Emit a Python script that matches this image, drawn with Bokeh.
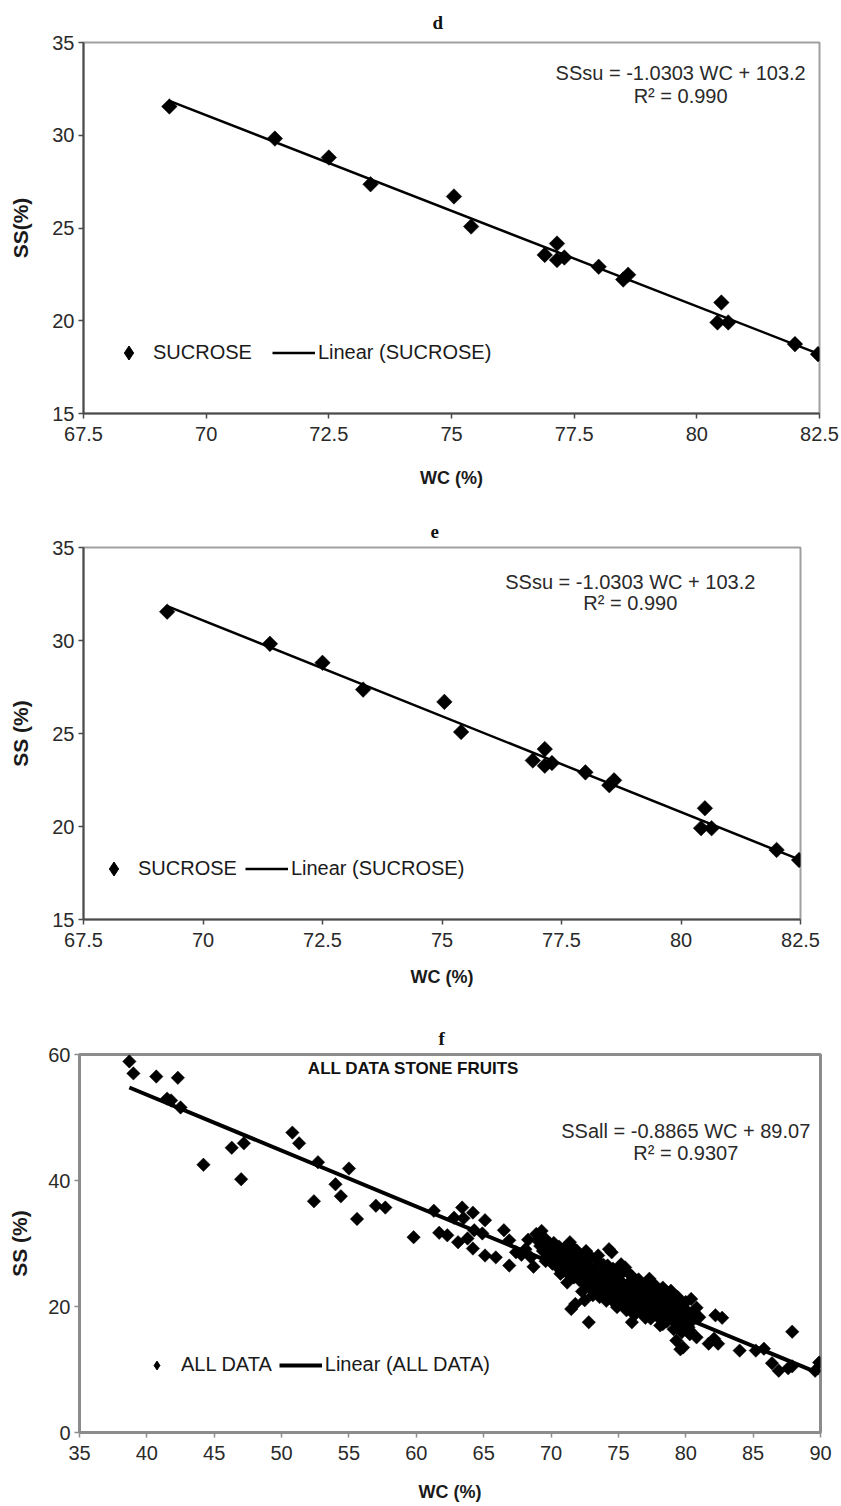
import math
from bokeh.plotting import figure
from bokeh.models import Range1d, FixedTicker, Label, Legend, LegendItem, NumeralTickFormatter
from bokeh.embed import file_html
from bokeh.resources import INLINE

# ---------------- data: panels d / e (SUCROSE) ----------------
su_wc = [69.25, 71.4, 72.5, 73.35, 75.05, 75.4, 76.9, 77.15, 77.15, 77.3, 78.0, 78.5, 78.6,
         80.42, 80.5, 80.64, 82.0, 82.47]
su_ss = [31.55, 29.82, 28.8, 27.36, 26.7, 25.08, 23.55, 24.16, 23.27, 23.41, 22.91, 22.22, 22.48,
         19.91, 20.98, 19.91, 18.74, 18.2]
su_slope = -1.0303
su_intercept = 103.2
su_eq = "SSsu = -1.0303 WC + 103.2"
su_r2 = "R\u00b2 = 0.990"

de_xticks = [67.5, 70, 72.5, 75, 77.5, 80, 82.5]
de_yticks = [15, 20, 25, 30, 35]

# ---------------- data: panel f (ALL DATA) ----------------
all_wc = [
    38.7, 39.0, 40.7, 42.3, 41.5, 41.8, 42.5, 44.2, 46.3, 47.2, 47.0, 50.8, 51.3, 52.7, 52.4,
    55.0, 54.0, 54.4, 55.6, 57.0, 57.7, 59.8, 61.3, 61.7, 62.3, 62.8, 63.4, 63.5, 63.1, 63.8,
    64.2, 64.3, 64.2, 64.9, 65.1, 65.1, 65.9, 66.5, 66.9, 66.9, 67.4, 68.1, 68.5, 68.9, 69.3,
    68.7, 68.3, 67.8,
    69.0, 69.2, 69.4, 69.5, 69.7, 69.8, 70.0, 70.1, 70.2, 70.3, 70.4, 70.5, 70.6, 70.7, 70.8,
    70.9, 71.0, 71.1, 71.2, 71.3, 71.4, 71.5, 71.6, 71.7, 71.8, 71.9, 72.0, 72.1, 72.2, 72.3,
    72.4, 72.5, 72.6, 72.7, 72.8, 72.9, 73.0, 73.1, 73.2, 73.3, 73.4, 73.5, 73.6, 73.7, 73.8,
    73.9, 74.0, 74.1, 74.2, 74.3, 74.4, 74.5, 74.6, 74.7, 74.8, 74.9, 75.0, 75.1, 75.2, 75.3,
    75.4, 75.5, 75.6, 75.7, 75.8, 75.9, 76.0, 76.1, 76.2, 76.3, 76.4, 76.5, 76.6, 76.7, 76.8,
    76.9, 77.0, 77.1, 77.2, 77.3, 77.4, 77.5, 77.6, 77.7, 77.8, 77.9, 78.0, 78.1, 78.2, 78.3,
    78.4, 78.5, 78.6, 78.7, 78.8, 78.9, 79.0, 79.1, 79.2, 79.3, 79.4, 79.5, 79.6, 79.7, 79.8,
    79.9, 80.0, 80.1, 80.2, 80.3, 80.5,
    71.0, 72.0, 73.0, 74.2, 75.0, 76.0, 72.5, 73.6, 74.8, 76.0, 77.0, 78.1,
    69.6, 69.9, 70.3, 70.7, 71.2, 71.4, 71.9, 72.3, 72.8, 73.1, 73.5, 73.9, 74.1, 74.6, 74.9,
    75.3, 75.6, 75.9, 76.2, 76.5, 76.8, 77.1, 77.4, 77.7, 78.0, 78.3, 78.6, 78.9, 79.1, 79.4,
    79.7, 80.0, 80.3, 80.6, 80.0, 79.2, 77.9, 76.4, 75.1, 73.8, 72.6, 71.3,
    71.5, 71.5, 71.8, 72.6, 72.8, 73.4, 74.3, 74.5, 75.2, 75.5, 76.0, 77.3, 78.3, 78.9, 78.3,
    79.3, 79.6, 79.8, 80.4, 80.8, 80.2, 80.8, 81.0, 81.7, 82.1, 82.4, 82.2, 82.7, 84.0, 85.2,
    85.8, 86.4, 86.9, 87.6, 87.9, 87.9, 89.6, 89.9,
]
all_ss = [
    58.9, 57.0, 56.5, 56.3, 53.0, 52.7, 51.6, 42.5, 45.2, 45.9, 40.2, 47.6, 45.9, 42.9, 36.7,
    41.9, 39.4, 37.5, 33.9, 36.0, 35.7, 31.0, 35.2, 31.7, 31.3, 34.1, 35.7, 34.0, 30.2, 30.8,
    34.9, 32.1, 29.2, 31.6, 33.7, 28.1, 27.8, 32.1, 30.5, 26.5, 28.6, 29.1, 27.8, 31.5, 32.0,
    26.3, 30.6, 28.2,
    30.5, 29.6, 28.8, 30.9, 27.9, 29.2, 28.4, 26.8, 30.1, 27.5, 28.9, 26.2, 29.5, 27.0, 28.1,
    25.6, 27.7, 26.5, 28.6, 25.1, 27.2, 26.0, 28.0, 24.6, 26.8, 25.5, 27.5, 24.2, 26.1, 25.0,
    27.0, 23.6, 25.8, 24.5, 26.4, 22.9, 25.2, 24.0, 26.0, 23.3, 25.0, 22.4, 24.6, 23.6, 25.5,
    22.0, 24.3, 23.1, 25.1, 22.6, 24.0, 21.7, 23.4, 24.7, 22.2, 23.0, 21.3, 24.1, 22.6, 20.8,
    23.5, 21.9, 22.9, 20.4, 23.8, 21.5, 22.4, 20.0, 23.0, 21.2, 22.0, 19.8, 22.6, 20.9, 21.6,
    23.5, 19.5, 21.2, 22.5, 20.4, 21.9, 19.1, 20.8, 22.8, 19.9, 21.4, 18.6, 20.5, 22.0, 19.4,
    21.0, 18.2, 20.2, 21.6, 19.0, 20.6, 17.9, 19.6, 21.0, 18.6, 20.0, 17.4, 19.1, 20.5, 18.3,
    16.8, 19.5, 17.6, 18.9, 16.2, 17.8,
    29.3, 28.3, 27.8, 26.5, 25.9, 24.8, 21.0, 21.5, 20.4, 19.2, 18.2, 17.0,
    27.2, 30.0, 29.7, 25.2, 23.8, 30.2, 28.9, 22.4, 27.9, 21.8, 28.1, 26.6, 20.9, 26.0, 19.9,
    25.4, 19.4, 25.0, 18.7, 24.3, 18.9, 23.9, 18.1, 23.4, 20.1, 22.6, 17.6, 21.8, 16.4, 21.5,
    15.9, 20.7, 15.6, 19.1, 17.2, 18.0, 18.4, 20.6, 22.0, 23.3, 24.0, 27.0,
    29.6, 19.6, 20.4, 28.8, 17.5, 27.4, 29.1, 28.6, 26.7, 26.2, 17.5, 24.4, 23.0, 22.5, 17.2,
    14.6, 13.2, 13.5, 21.2, 19.8, 16.7, 15.1, 18.3, 14.1, 14.9, 14.1, 18.6, 18.2, 13.0, 13.0,
    13.3, 11.0, 9.8, 10.2, 10.5, 16.0, 9.8, 11.1,
]
all_slope = -0.8865
all_intercept = 89.07
all_eq = "SSall = -0.8865 WC + 89.07"
all_r2 = "R\u00b2 = 0.9307"

f_xticks = [35, 40, 45, 50, 55, 60, 65, 70, 75, 80, 85, 90]
f_yticks = [0, 20, 40, 60]

SANS = "Liberation Sans"
SERIF = "Liberation Serif"


def make_panel(height, borders, xr, yr, xticks, yticks, wc, ss, slope, intercept,
               panel_title, title_offset, title_standoff, ylabel, eq, r2, eq_pos, series_name,
               legend_loc, legend_spacing, glyph_h, marker_size, line_w,
               outline_color, outline_w, axis_color, axis_w, xlab_standoff, ylab_standoff,
               extra_title=None):
    left, right, top, bottom = borders
    p = figure(width=841, height=height, output_backend="svg", toolbar_location=None,
               x_range=Range1d(*xr), y_range=Range1d(*yr),
               min_border_left=left, min_border_right=right,
               min_border_top=top, min_border_bottom=bottom)
    p.xgrid.visible = False
    p.ygrid.visible = False
    p.background_fill_color = "white"
    p.border_fill_color = "white"
    p.outline_line_color = outline_color
    p.outline_line_width = outline_w

    p.title.text = panel_title
    p.title.align = "left"
    p.title.vertical_align = "top"
    p.title.offset = title_offset
    p.title.standoff = title_standoff
    p.title.text_font = SERIF
    p.title.text_font_size = "19px"
    p.title.text_font_style = "bold"
    p.title.text_color = "#111111"

    for ax in (p.xaxis[0], p.yaxis[0]):
        ax.axis_line_color = axis_color
        ax.axis_line_width = axis_w
        ax.major_tick_line_color = axis_color
        ax.major_tick_line_width = 1.5
        ax.major_tick_in = 0
        ax.major_tick_out = 5
        ax.minor_tick_line_color = None
        ax.major_label_text_font = SANS
        ax.major_label_text_font_size = "20px"
        ax.major_label_text_color = "#2a2a2a"
        ax.axis_label_text_font = SANS
        ax.axis_label_text_font_style = "bold"
        ax.axis_label_text_color = "#1a1a1a"
        ax.formatter = NumeralTickFormatter(format="0.[0]")

    p.xaxis[0].axis_label_text_font_size = "18px"
    p.yaxis[0].axis_label_text_font_size = "21px"
    p.xaxis[0].ticker = FixedTicker(ticks=xticks)
    p.yaxis[0].ticker = FixedTicker(ticks=yticks)
    p.xaxis[0].axis_label = "WC (%)"
    p.yaxis[0].axis_label = ylabel
    p.xaxis[0].major_label_standoff = 8
    p.yaxis[0].major_label_standoff = 4
    p.xaxis[0].axis_label_standoff = xlab_standoff
    p.yaxis[0].axis_label_standoff = ylab_standoff

    # regression line from the smallest to the largest WC value
    x0, x1 = min(wc), max(wc)
    line_r = p.line([x0, x1], [slope * x0 + intercept, slope * x1 + intercept],
                    line_color="black", line_width=line_w)
    p.scatter(wc, ss, marker="square", angle=math.pi / 4, size=marker_size,
              fill_color="black", line_color="black", line_width=0.5)
    # same points, diamond marker, only used for the legend swatch
    key_r = p.scatter(wc, ss, marker="diamond", size=marker_size,
                      fill_color="black", line_color="black", visible=False)

    legend = Legend(items=[LegendItem(label=series_name, renderers=[key_r]),
                           LegendItem(label="Linear (%s)" % series_name, renderers=[line_r])],
                    location=legend_loc, orientation="horizontal",
                    glyph_width=43, glyph_height=glyph_h, label_height=glyph_h,
                    label_standoff=3, spacing=legend_spacing, padding=0, margin=0,
                    border_line_alpha=0, background_fill_alpha=0,
                    inactive_fill_alpha=0,
                    label_text_font=SANS, label_text_font_size="20px",
                    label_text_color="#1a1a1a")
    p.add_layout(legend, "center")

    if extra_title is not None:
        ex, ey, etxt = extra_title
        p.add_layout(Label(x=ex, y=ey, text=etxt, text_font=SANS, text_font_size="17px",
                           text_font_style="bold", text_align="center",
                           text_baseline="middle", text_color="#111111"))

    ex, ey1, ey2 = eq_pos
    p.add_layout(Label(x=ex, y=ey1, text=eq, text_font=SANS, text_font_size="20px",
                       text_align="center", text_baseline="middle", text_color="#2a2a2a"))
    p.add_layout(Label(x=ex, y=ey2, text=r2, text_font=SANS, text_font_size="20px",
                       text_align="center", text_baseline="middle", text_color="#2a2a2a"))
    return p


pd_ = make_panel(495, (83, 22, 42, 82), (67.5, 82.5), (15, 35), de_xticks, de_yticks,
                 su_wc, su_ss, su_slope, su_intercept,
                 "d", 349, 15, "SS(%)", su_eq, su_r2, (79.67, 33.38, 32.09),
                 "SUCROSE", (24, 43), 20, 35, 11, 2.5,
                 "#a0a0a0", 2, "#4a4a4a", 2, 24, 17)

pe_ = make_panel(500, (83, 41, 52, 76), (67.5, 82.5), (15, 35), de_xticks, de_yticks,
                 su_wc, su_ss, su_slope, su_intercept,
                 "e", 347, 16, "SS (%)", su_eq, su_r2, (78.94, 33.12, 31.99),
                 "SUCROSE", (9, 33), 8, 35, 11, 2.5,
                 "#a0a0a0", 2, "#4a4a4a", 2, 17, 17)

pf_ = make_panel(511, (79, 21, 59, 74), (35, 90), (0, 60), f_xticks, f_yticks,
                 all_wc, all_ss, all_slope, all_intercept,
                 "f", 359, 7, "SS (%)", all_eq, all_r2, (80.0, 47.9, 44.4),
                 "ALL DATA", (56, 56), 7, 22, 9.5, 4,
                 "#8c8c8c", 3, "#8c8c8c", 3, 19, 14,
                 extra_title=(59.8, 57.8, "ALL DATA STONE FRUITS"))

open("out.html", "w").write(file_html([pd_, pe_, pf_], INLINE))
